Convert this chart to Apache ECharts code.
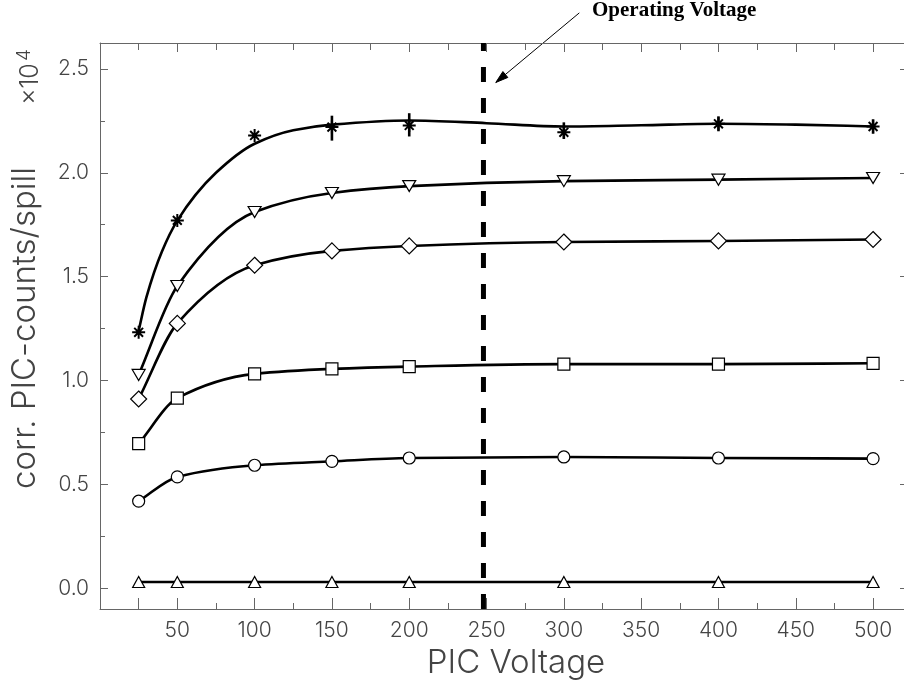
<!DOCTYPE html>
<html>
<head>
<meta charset="utf-8">
<script src="https://cdn.jsdelivr.net/npm/echarts@6/dist/echarts.min.js"></script>
<style>html,body{margin:0;padding:0;background:#fff;}#chart{width:904px;height:686px;}</style>
</head>
<body>
<div id="chart"></div>
<script>
// ---- data (values in units of 10^4 counts/spill) ----
const voltages = [25, 50, 100, 150, 200, 300, 400, 500];
const starVals    = [1.232, 1.771, 2.180, 2.220, 2.228, 2.195, 2.236, 2.223];
const triDownVals = [1.027, 1.455, 1.811, 1.903, 1.936, 1.960, 1.967, 1.975];
const diamondVals = [0.911, 1.275, 1.555, 1.624, 1.648, 1.667, 1.672, 1.679];
const squareVals  = [0.696, 0.915, 1.032, 1.056, 1.067, 1.079, 1.079, 1.083];
const circleVals  = [0.419, 0.536, 0.592, 0.611, 0.627, 0.632, 0.627, 0.624];
const triUpVals   = [0.030, 0.030, 0.030, 0.030, 0.030, 0.030, 0.030, 0.030];

// error bars on the star series
const errX    = [150, 200, 300, 400, 500];
const errLow  = [2.155, 2.175, 2.163, 2.200, 2.188];
const errHigh = [2.275, 2.287, 2.243, 2.272, 2.258];

// fitted curve through the star points
const starFitX = [25, 30, 40, 50, 75, 100, 125, 150, 200, 250, 300, 350, 400, 450, 500];
const starFitY = [1.24, 1.40, 1.62, 1.77, 2.00, 2.14, 2.205, 2.232, 2.252, 2.239, 2.223, 2.229, 2.236, 2.232, 2.223];

// operating voltage marker
const operatingVoltage = 248;
const yRange = [-0.1, 2.625];
const xRange = [0, 520];

// ticks
const xMajorTicks = [25, 50, 100, 150, 200, 250, 300, 350, 400, 450, 500];
const xLabelTicks = [50, 100, 150, 200, 250, 300, 350, 400, 450, 500];
const xMinorTicks = [75, 125, 175, 225, 275, 325, 375, 425, 475];
const xTopMajor = [50, 100, 150, 200, 250, 300, 350, 400, 450, 500];
const xTopMinor = [25, 75, 125, 175, 225, 275, 325, 375, 425, 475];
const yMajorTicks = [0, 0.5, 1.0, 1.5, 2.0, 2.5];
const yMinorTicks = [0.25, 0.75, 1.25, 1.75, 2.25];

// annotation (data coordinates)
const arrowTail = [310, 2.77];
const arrowHead = [256, 2.435];

const pairs = (xs, ys) => xs.map((x, i) => [x, ys[i]]);

const FONT = "Inter, 'DejaVu Sans', sans-serif";
const AXIS_COLOR = '#666';
const TEXT_COLOR = '#444';

const chart = echarts.init(document.getElementById('chart'), null, {renderer: 'canvas'});

function xAxisDef(pos, ticks, len, labels, showLine) {
  return {
    type: 'value', position: pos, min: xRange[0], max: xRange[1],
    axisLine: {show: showLine, onZero: false, lineStyle: {color: AXIS_COLOR, width: 1}},
    axisTick: {show: true, inside: true, length: len, customValues: ticks, lineStyle: {color: AXIS_COLOR, width: 1}},
    axisLabel: labels ? {show: true, customValues: labels, margin: 11, color: TEXT_COLOR,
      fontFamily: FONT, fontWeight: 300, fontSize: 21} : {show: false},
    splitLine: {show: false}
  };
}
function yAxisDef(pos, ticks, len, labels, showLine) {
  return {
    type: 'value', position: pos, min: yRange[0], max: yRange[1],
    axisLine: {show: showLine, onZero: false, lineStyle: {color: AXIS_COLOR, width: 1}},
    axisTick: {show: true, inside: true, length: len, customValues: ticks, lineStyle: {color: AXIS_COLOR, width: 1}},
    axisLabel: labels ? {show: true, customValues: labels, margin: 11, color: TEXT_COLOR,
      fontFamily: FONT, fontWeight: 300, fontSize: 21, formatter: v => v.toFixed(1)} : {show: false},
    splitLine: {show: false}
  };
}

// monotone cubic (Fritsch-Carlson) path through pixel points
function monotonePath(p) {
  const n = p.length;
  const h = [], d = [];
  for (let i = 0; i < n - 1; i++) {
    h.push(p[i + 1][0] - p[i][0]);
    d.push((p[i + 1][1] - p[i][1]) / h[i]);
  }
  const m = new Array(n);
  m[0] = d[0]; m[n - 1] = d[n - 2];
  for (let i = 1; i < n - 1; i++) {
    if (d[i - 1] * d[i] <= 0) { m[i] = 0; continue; }
    const w1 = 2 * h[i] + h[i - 1], w2 = h[i] + 2 * h[i - 1];
    m[i] = (w1 + w2) / (w1 / d[i - 1] + w2 / d[i]);
  }
  let s = 'M' + p[0][0] + ' ' + p[0][1];
  for (let i = 0; i < n - 1; i++) {
    const t = h[i] / 3;
    s += 'C' + (p[i][0] + t) + ' ' + (p[i][1] + m[i] * t) + ' ' +
         (p[i + 1][0] - t) + ' ' + (p[i + 1][1] - m[i + 1] * t) + ' ' +
         p[i + 1][0] + ' ' + p[i + 1][1];
  }
  return s;
}

function curveSeries(name, xs, ys) {
  return {
    name: name + 'Curve', type: 'custom', xAxisIndex: 0, yAxisIndex: 0,
    data: pairs(xs, ys), encode: {x: 0, y: 1}, z: 4, silent: true,
    renderItem: function (params, api) {
      if (params.dataIndex !== 0) return null;
      const pts = xs.map((x, i) => api.coord([x, ys[i]]));
      return {type: 'path', shape: {pathData: monotonePath(pts)},
        style: {fill: 'none', stroke: '#000', lineWidth: 2.6}};
    }
  };
}

function markerSeries(name, vals, symbol, size, rotate) {
  return {
    name, type: 'scatter', xAxisIndex: 0, yAxisIndex: 0,
    data: pairs(voltages, vals), symbol, symbolSize: size, symbolRotate: rotate || 0,
    itemStyle: {color: '#fff', borderColor: '#000', borderWidth: 1.2, opacity: 1}, z: 7
  };
}

const starPath = 'path://M5 0L5 10M0 5L10 5M1.6 1.6L8.4 8.4M1.6 8.4L8.4 1.6';

const option = {
  animation: false,
  backgroundColor: '#fff',
  grid: {left: 100, top: 43, width: 804, height: 566, containLabel: false},
  xAxis: [
    xAxisDef('bottom', xMajorTicks, 11, xLabelTicks, true),
    xAxisDef('bottom', xMinorTicks, 6, null, false),
    xAxisDef('top', xTopMajor, 9, null, true),
    xAxisDef('top', xTopMinor, 7, null, false)
  ],
  yAxis: [
    yAxisDef('left', yMajorTicks, 8, yMajorTicks, true),
    yAxisDef('left', yMinorTicks, 5, null, false),
    yAxisDef('right', yMajorTicks, 4, null, true)
  ],
  series: [
    {
      name: 'operating', type: 'line', xAxisIndex: 0, yAxisIndex: 0,
      data: [[operatingVoltage, yRange[0]], [operatingVoltage, yRange[1]]],
      symbol: 'none', lineStyle: {color: '#000', width: 5, type: [15, 16], cap: 'butt'}, z: 3
    },
    curveSeries('star', starFitX, starFitY),
    curveSeries('triDown', voltages, triDownVals),
    curveSeries('diamond', voltages, diamondVals),
    curveSeries('square', voltages, squareVals),
    curveSeries('circle', voltages, circleVals),
    curveSeries('triUp', voltages, triUpVals),
    {
      name: 'starErr', type: 'custom', xAxisIndex: 0, yAxisIndex: 0,
      data: errX.map((x, i) => [x, errLow[i], errHigh[i]]),
      encode: {x: 0, y: [1, 2]},
      renderItem: function (params, api) {
        const a = api.coord([api.value(0), api.value(1)]);
        const b = api.coord([api.value(0), api.value(2)]);
        return {type: 'line', shape: {x1: a[0], y1: a[1], x2: b[0], y2: b[1]},
          style: {stroke: '#000', lineWidth: 2.6}};
      }, z: 6
    },
    {
      name: 'star', type: 'scatter', xAxisIndex: 0, yAxisIndex: 0,
      data: pairs(voltages, starVals), symbol: starPath, symbolSize: 13,
      itemStyle: {color: '#000', borderColor: '#000', borderWidth: 2, opacity: 1}, z: 7
    },
    markerSeries('triDown', triDownVals, 'triangle', [13, 11], 180),
    markerSeries('diamond', diamondVals, 'diamond', [16, 16]),
    markerSeries('square', squareVals, 'rect', [12, 12]),
    markerSeries('circle', circleVals, 'circle', 12),
    markerSeries('triUp', triUpVals, 'triangle', [12, 11])
  ],
  graphic: [
    {type: 'text', x: 25, y: 328, rotation: Math.PI / 2,
      style: {text: 'corr. PIC-counts/spill', font: '300 33px ' + FONT, fill: TEXT_COLOR,
        textAlign: 'center', textVerticalAlign: 'middle'}},
    {type: 'text', x: 30, y: 84, rotation: Math.PI / 2,
      style: {text: '\u00d710', font: '300 25px ' + FONT, fill: TEXT_COLOR,
        textAlign: 'center', textVerticalAlign: 'middle'}},
    {type: 'text', x: 24, y: 55, rotation: Math.PI / 2,
      style: {text: '4', font: '300 19px ' + FONT, fill: TEXT_COLOR,
        textAlign: 'center', textVerticalAlign: 'middle'}},
    {type: 'text', x: 516, y: 663,
      style: {text: 'PIC Voltage', font: '300 33px ' + FONT, fill: TEXT_COLOR,
        textAlign: 'center', textVerticalAlign: 'middle'}},
    {type: 'text', x: 592, y: 11,
      style: {text: 'Operating Voltage', font: 'bold 21px "Liberation Serif", "Times New Roman", serif', fill: '#000',
        textAlign: 'left', textVerticalAlign: 'middle'}}
  ]
};

chart.setOption(option);

// arrow from annotation to the dashed line, positioned through the axes
const finder = {xAxisIndex: 0, yAxisIndex: 0};
const p0 = chart.convertToPixel(finder, arrowTail);
const p1 = chart.convertToPixel(finder, arrowHead);
const ang = Math.atan2(p1[1] - p0[1], p1[0] - p0[0]);
const hl = 13, ha = 0.3;
const h1 = [p1[0] - hl * Math.cos(ang - ha), p1[1] - hl * Math.sin(ang - ha)];
const h2 = [p1[0] - hl * Math.cos(ang + ha), p1[1] - hl * Math.sin(ang + ha)];
chart.setOption({
  graphic: option.graphic.concat([
    {type: 'line', shape: {x1: p0[0], y1: p0[1], x2: p1[0], y2: p1[1]}, style: {stroke: '#000', lineWidth: 1}},
    {type: 'polygon', shape: {points: [h1, p1, h2]}, style: {fill: '#000', stroke: '#000', lineWidth: 1}}
  ])
}, {replaceMerge: ['graphic']});
</script>
</body>
</html>
